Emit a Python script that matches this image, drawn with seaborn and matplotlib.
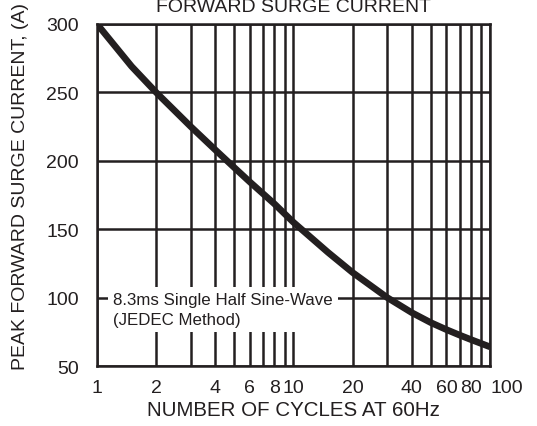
import numpy as np
import pandas as pd
import matplotlib
matplotlib.use("Agg")
import matplotlib.pyplot as plt
import seaborn as sns

cycles = [1, 1.5, 2, 3, 4, 5, 6, 8, 10, 15, 20, 30, 40, 50, 60, 70, 80, 90, 100]
peak_current = [300, 269, 250, 225, 208, 195, 184.5, 168.5, 155, 133, 118.3, 100,
                89, 81.7, 76.6, 72.6, 69.3, 66.5, 64]
y_ticks = [50, 100, 150, 200, 250, 300]
x_ticks = [1, 2, 4, 6, 8, 10, 20, 40, 60, 80, 100]
x_grid = [1, 2, 3, 4, 5, 6, 7, 8, 9, 10, 20, 30, 40, 50, 60, 70, 80, 90, 100]

df = pd.DataFrame({"cycles": cycles, "current": peak_current})

sns.set_theme(style="white")
plt.rcParams["font.family"] = ["Liberation Sans", "DejaVu Sans"]
ink = "#231f20"

fig = plt.figure(figsize=(5.37, 4.27), dpi=100)
ax = fig.add_axes([0.1806, 0.1405, 0.7319, 0.801])

lw = 1.8
for xv in x_grid:
    ax.axvline(xv, color=ink, lw=lw, zorder=1)
for yv in y_ticks:
    ax.axhline(yv, color=ink, lw=lw, zorder=1)

sns.lineplot(data=df, x="cycles", y="current", ax=ax, color=ink,
             lw=4.8, zorder=4, solid_capstyle="butt")

ax.set_xscale("log")
ax.set_xlim(1, 100)
ax.set_ylim(50, 300)
ax.set_xticks(x_ticks)
ax.set_xticklabels([str(t) for t in x_ticks])
ax.minorticks_off()
ax.set_yticks(y_ticks)
ax.tick_params(length=0, labelsize=14, colors=ink)
ax.tick_params(axis="x", pad=9)
ax.tick_params(axis="y", pad=13)
ax.get_xticklabels()[-1].set_horizontalalignment("left")
for s in ax.spines.values():
    s.set_color(ink)
    s.set_linewidth(lw)

ax.set_xlabel("NUMBER OF CYCLES AT 60Hz", fontsize=14.8, color=ink, labelpad=3)
ax.set_ylabel("PEAK FORWARD SURGE CURRENT, (A)", fontsize=14, color=ink)
ax.yaxis.set_label_coords(-0.173, 0.528)

ax.text(1.205, 91.5, "8.3ms Single Half Sine-Wave\n(JEDEC Method)", fontsize=12.2,
        color=ink, ha="left", va="center", linespacing=1.4, zorder=3,
        bbox=dict(boxstyle="square,pad=0.3", facecolor="white", edgecolor="none"))

fig.text(0.547, 1 - 12 / 427, "FORWARD SURGE CURRENT", fontsize=14,
         color=ink, ha="center", va="baseline")

fig.savefig("out.png", dpi=100)
